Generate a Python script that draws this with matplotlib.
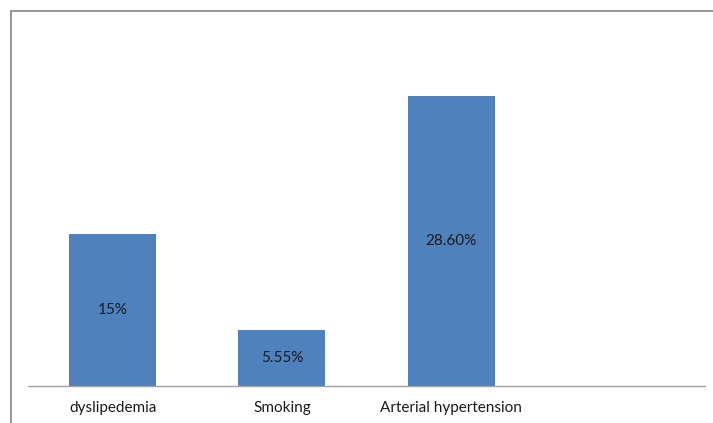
import matplotlib.pyplot as plt
from matplotlib.patches import Rectangle

# data
categories = ['dyslipedemia', 'Smoking', 'Arterial hypertension', '']
values = [15, 5.55, 28.6, 0]
value_labels = ['15%', '5.55%', '28.60%', '']

W, H = 713, 423
fig = plt.figure(figsize=(W / 100, H / 100), dpi=100)
plt.rcParams['font.family'] = ['Lato', 'DejaVu Sans']

# outer frame (only top and left edges visible in the picture)
fig.patches.append(Rectangle((10.5 / W, -0.1), 1.2, (H - 11.5) / H + 0.1,
                             transform=fig.transFigure, fill=False,
                             edgecolor='#8c8c8c', linewidth=1.3))

ymax = 35
px_per_unit = 10.15
bottom_px = 386
top_px = bottom_px - ymax * px_per_unit
ax = fig.add_axes([28 / W, (H - bottom_px) / H, (705 - 28) / W,
                   (bottom_px - top_px) / H])

x = range(len(categories))
ax.bar(x, values, width=0.515, color='#4F81BD')
for xi, v, lab in zip(x, values, value_labels):
    if lab:
        ax.text(xi, v / 2, lab, ha='center', va='center', fontsize=11, color='#1a1a1a')

ax.set_xlim(-0.5, len(categories) - 0.5)
ax.set_ylim(0, ymax)
ax.set_xticks(list(x))
ax.set_xticklabels(categories, fontsize=11, color='#1a1a1a')
ax.tick_params(axis='x', length=0, pad=11)
ax.set_yticks([])
for s in ['top', 'right', 'left']:
    ax.spines[s].set_visible(False)
ax.spines['bottom'].set_color('#a0a0a0')
ax.spines['bottom'].set_linewidth(1.0)

fig.savefig('out.png', dpi=100)
